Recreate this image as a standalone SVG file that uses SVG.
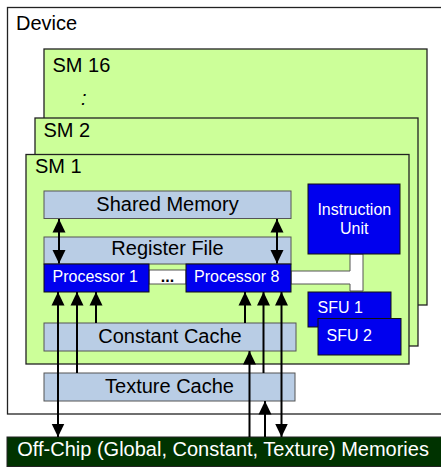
<svg xmlns="http://www.w3.org/2000/svg" width="441" height="475" viewBox="0 0 441 475">
<defs>
<style>
text{font-family:"Liberation Sans",Arial,sans-serif;}
.sm{fill:#CCFF99;stroke:#222;stroke-width:1.3;}
.mem{fill:#B9CDE5;stroke:#555;stroke-width:1;}
.blue{fill:#0000EE;stroke:#111;stroke-width:1;}
.wh{fill:#FFFFFF;stroke:#555;stroke-width:1;}
.lbl{font-size:20px;fill:#000;}
.mid{text-anchor:middle;}
.wt{font-size:16px;fill:#FFFFFF;}
.arr{stroke:#000;stroke-width:2;fill:none;}
.one{marker-end:url(#ah);}
.two{marker-start:url(#ah);marker-end:url(#ah);}
</style>
<marker id="ah" markerUnits="userSpaceOnUse" markerWidth="14" markerHeight="14" viewBox="0 0 14 14" refX="13.5" refY="7" orient="auto-start-reverse">
<path d="M0,0.5 L13.5,7 L0,13.5 Z" fill="#000"/>
</marker>
</defs>

<g id="device">
<rect x="7.5" y="7.5" width="440" height="406.5" fill="#FFFFFF" stroke="#222" stroke-width="1.3"/>
<text class="lbl" x="16" y="30">Device</text>
</g>

<g id="sm16">
<rect class="sm" x="44" y="49" width="383" height="256"/>
<text class="lbl" x="52.5" y="71.7">SM 16</text>
<text class="lbl" x="81" y="105" font-style="italic">:</text>
</g>

<g id="sm2">
<rect class="sm" x="35" y="118" width="383" height="228"/>
<text class="lbl" x="43.5" y="136.7">SM 2</text>
</g>

<g id="sm1">
<rect class="sm" x="26" y="154.5" width="383" height="209.5"/>
<text class="lbl" x="35" y="173.3">SM 1</text>
</g>

<g id="shared-memory">
<rect class="mem" x="44" y="191" width="247" height="27.5"/>
<text class="lbl mid" x="167.5" y="210.5">Shared Memory</text>
</g>

<g id="register-file">
<rect class="mem" x="44" y="237" width="247" height="27"/>
<text class="lbl mid" x="167.5" y="255">Register File</text>
</g>

<g id="dots">
<rect class="wh" x="149" y="270" width="37" height="14"/>
<text x="167.5" y="282" font-size="16" font-weight="bold" text-anchor="middle" fill="#000">...</text>
</g>

<g id="instr-link">
<path class="wh" d="M350,254 L363,254 L363,291 L350,291 L350,284 L291,284 L291,271 L350,271 Z"/>
</g>

<g id="processor-1">
<rect class="blue" x="44" y="264" width="105" height="28"/>
<text class="wt" x="52.5" y="282">Processor 1</text>
</g>

<g id="processor-8">
<rect class="blue" x="186" y="264" width="105" height="28"/>
<text class="wt" x="194" y="282">Processor 8</text>
</g>

<g id="instruction-unit">
<rect class="blue" x="308" y="184" width="92" height="70"/>
<text class="wt mid" x="354.3" y="215">Instruction</text>
<text class="wt mid" x="354.3" y="234">Unit</text>
</g>

<g id="sfu-1">
<rect class="blue" x="308" y="292" width="83" height="35"/>
<text class="wt" x="317.5" y="313.3">SFU 1</text>
</g>

<g id="sfu-2">
<rect class="blue" x="318" y="318.5" width="83" height="36.5"/>
<text class="wt" x="326.5" y="340.7">SFU 2</text>
</g>

<g id="constant-cache">
<rect class="mem" x="44" y="323" width="252" height="28"/>
<text class="lbl mid" x="170" y="342.7">Constant Cache</text>
</g>

<g id="texture-cache">
<rect class="mem" x="44" y="373" width="251" height="28"/>
<text class="lbl mid" x="169.5" y="392.7">Texture Cache</text>
</g>

<g id="off-chip">
<rect x="7" y="437" width="440" height="29.5" fill="#003300" stroke="#222" stroke-width="1"/>
<text x="17.3" y="456" font-size="20" fill="#FFFFFF">Off-Chip (Global, Constant, Texture) Memories</text>
</g>

<g id="connectors">
<line class="arr two" x1="59" y1="219" x2="59" y2="263.5"/>
<line class="arr two" x1="277" y1="219" x2="277" y2="263.5"/>
<line class="arr two" x1="58" y1="292" x2="58" y2="437"/>
<line class="arr one" x1="77" y1="373" x2="77" y2="292"/>
<line class="arr one" x1="96" y1="323" x2="96" y2="292"/>
<line class="arr one" x1="245" y1="323" x2="245" y2="292"/>
<line class="arr one" x1="263.5" y1="373" x2="263.5" y2="292"/>
<line class="arr two" x1="281.5" y1="292" x2="281.5" y2="437"/>
<line class="arr one" x1="249.5" y1="437" x2="249.5" y2="351"/>
<line class="arr one" x1="265" y1="437" x2="265" y2="401"/>
</g>
</svg>
